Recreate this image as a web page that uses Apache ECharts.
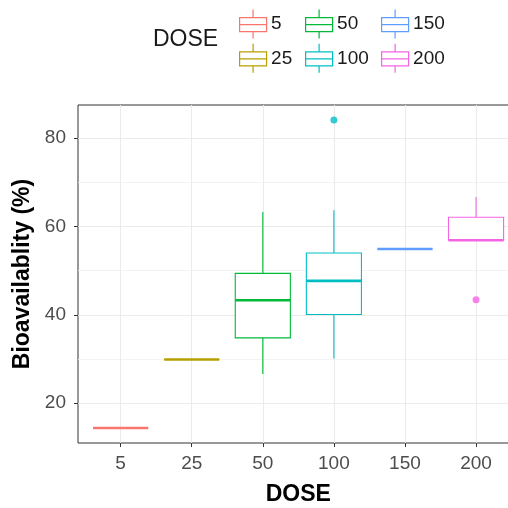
<!DOCTYPE html>
<html>
<head>
<meta charset="utf-8">
<script src="https://cdn.jsdelivr.net/npm/echarts@6/dist/echarts.min.js"></script>
<style>html,body{margin:0;padding:0;background:#fff}#c{width:508px;height:508px}</style>
</head>
<body>
<div id="c"></div>
<script>
// ---- data ----
const categories = ['5', '25', '50', '100', '150', '200'];
const whiskerLow  = [14.4, 29.9, 26.6, 30.1, 54.9, 56.9];
const q1          = [14.4, 29.9, 34.8, 40.1, 54.9, 56.9];
const median      = [14.4, 29.9, 43.3, 47.7, 54.9, 56.9];
const q3          = [14.4, 29.9, 49.4, 54.0, 54.9, 62.1];
const whiskerHigh = [14.4, 29.9, 63.3, 63.7, 54.9, 66.7];
const outlierDose  = ['100', '200'];
const outlierValue = [84.1, 43.4];
const yMajorTicks = [20, 40, 60, 80];
const yMinorLines = [30, 50, 70];
const colors = ['#F8766D', '#B79F00', '#00BA38', '#00BFC4', '#619CFF', '#F564E3'];

const FONT = 'Liberation Sans, Arial, sans-serif';
const BOX_W = 0.775;

function renderBox(params, api) {
  const x = api.value(0);
  const lo = api.coord([x, api.value(1)]);
  const b1 = api.coord([x, api.value(2)]);
  const md = api.coord([x, api.value(3)]);
  const b3 = api.coord([x, api.value(4)]);
  const hi = api.coord([x, api.value(5)]);
  const hw = api.size([BOX_W, 0])[0] / 2;
  const col = api.visual('color');
  const cx = lo[0];
  const ls = {stroke: col, lineWidth: 1.1, fill: null};
  return {
    type: 'group',
    children: [
      {type: 'line', shape: {x1: cx, y1: hi[1], x2: cx, y2: b3[1]}, style: ls},
      {type: 'line', shape: {x1: cx, y1: b1[1], x2: cx, y2: lo[1]}, style: ls},
      {type: 'rect', shape: {x: cx - hw, y: b3[1], width: 2 * hw, height: b1[1] - b3[1]},
       style: {stroke: col, lineWidth: 1.1, fill: '#fff'}},
      {type: 'line', shape: {x1: cx - hw, y1: md[1], x2: cx + hw, y2: md[1]},
       style: {stroke: col, lineWidth: 2.6}}
    ]
  };
}

const series = categories.map((c, i) => ({
  name: c,
  type: 'custom',
  renderItem: renderBox,
  itemStyle: {color: colors[i]},
  encode: {x: 0, y: [1, 2, 3, 4, 5]},
  data: [[i + 1, whiskerLow[i], q1[i], median[i], q3[i], whiskerHigh[i]]],
  z: 3
}));
series.push({
  name: 'outliers',
  type: 'scatter',
  symbolSize: 7,
  data: outlierDose.map((d, k) => {
    const i = categories.indexOf(d);
    return {value: [i + 1, outlierValue[k]], itemStyle: {color: colors[i]}};
  }),
  z: 4
});

const keyIcon = 'path://M14,0 L14,8 M0.5,8 L27.5,8 L27.5,22 L0.5,22 Z M0.5,15 L27.5,15 M14,22 L14,29';
function legendFor(names, left) {
  return {
    orient: 'vertical', left: left, top: 4,
    itemWidth: 28, itemHeight: 29, itemGap: 4,
    icon: keyIcon,
    selectedMode: false,
    textStyle: {fontFamily: FONT, fontSize: 19, color: '#1a1a1a', padding: [0, 0, 0, -1]},
    data: names.map(n => ({
      name: n,
      itemStyle: {color: '#fff', borderColor: colors[categories.indexOf(n)], borderWidth: 1.2}
    }))
  };
}

const chart = echarts.init(document.getElementById('c'), null, {renderer: 'canvas'});
chart.setOption({
  animation: false,
  backgroundColor: '#fff',
  textStyle: {fontFamily: FONT},
  legend: [legendFor(['5', '25'], 234), legendFor(['50', '100'], 300), legendFor(['150', '200'], 376)],
  graphic: [{
    type: 'text', left: 153, top: 28,
    style: {text: 'DOSE', fontFamily: FONT, fontSize: 23, fill: '#1a1a1a'}
  }],
  grid: {left: 78, top: 105, width: 440.7, height: 338, show: true,
         borderColor: '#333', borderWidth: 1, backgroundColor: '#fff',
         containLabel: false, outerBoundsMode: 'none'},
  xAxis: {
    type: 'value', min: 0.4, max: 6.6,
    name: 'DOSE', nameLocation: 'middle', nameGap: 40,
    nameTextStyle: {fontFamily: FONT, fontSize: 23, fontWeight: 'bold', color: '#000'},
    axisLine: {show: false},
    axisTick: {show: true, length: 4, customValues: [1, 2, 3, 4, 5, 6], lineStyle: {color: '#333'}},
    axisLabel: {customValues: [1, 2, 3, 4, 5, 6], margin: 11, fontSize: 19, color: '#4d4d4d',
                formatter: v => categories[Math.round(v) - 1]},
    splitLine: {show: true, lineStyle: {color: '#ebebeb', width: 1.1}}
  },
  yAxis: [{
    type: 'value', min: 11, max: 87.5,
    name: 'Bioavailablity (%)', nameLocation: 'middle', nameGap: 39,
    nameTextStyle: {fontFamily: FONT, fontSize: 23, fontWeight: 'bold', color: '#000'},
    axisLine: {show: false},
    axisTick: {show: true, length: 4, customValues: yMajorTicks, lineStyle: {color: '#333'}},
    axisLabel: {customValues: yMajorTicks, margin: 12, fontSize: 19, color: '#4d4d4d'},
    splitLine: {show: true, lineStyle: {color: '#ebebeb', width: 1.1}}
  }, {
    type: 'value', min: 11, max: 87.5, position: 'left',
    axisLine: {show: false},
    axisTick: {show: false, customValues: yMinorLines},
    axisLabel: {show: false, customValues: yMinorLines},
    splitLine: {show: true, lineStyle: {color: '#f0f0f0', width: 0.8}}
  }],
  series: series
});
</script>
</body>
</html>
